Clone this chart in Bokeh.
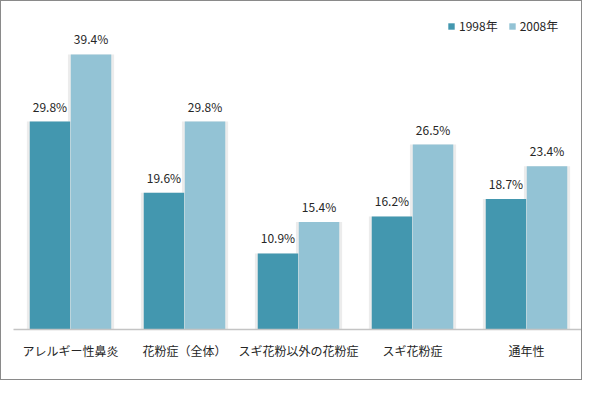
from bokeh.plotting import figure
from bokeh.models import ColumnDataSource, FactorRange, Legend, LegendItem
from bokeh.transform import dodge
from bokeh.core.properties import value
from bokeh.embed import file_html
from bokeh.resources import INLINE

categories = ["アレルギー性鼻炎", "花粉症（全体）", "スギ花粉以外の花粉症", "スギ花粉症", "通年性"]
v1998 = [29.8, 19.6, 10.9, 16.2, 18.7]
v2008 = [39.4, 29.8, 15.4, 26.5, 23.4]
series_names = ["1998年", "2008年"]

FONT = "Noto Sans CJK JP"
C1 = "#4397AF"
C2 = "#93C3D5"

src = ColumnDataSource(dict(
    cat=categories,
    a=v1998,
    b=v2008,
    la=[f"{v:.1f}%" for v in v1998],
    lb=[f"{v:.1f}%" for v in v2008],
))

p = figure(width=582, height=380, x_range=FactorRange(*categories, range_padding=0),
           y_range=(0, 44.7), output_backend="svg", toolbar_location=None,
           min_border_left=12, min_border_right=0, min_border_top=16, min_border_bottom=52)
p.styles = {"border": "1px solid #8a8a8a"}
p.outline_line_color = None
p.grid.grid_line_color = None
p.yaxis.visible = False
p.background_fill_color = "white"
p.border_fill_color = "white"

off = 0.18
bw = 0.355
sh = 0.05
p.vbar(x=dodge("cat", -off, range=p.x_range), top="a", width=bw + sh, source=src,
       fill_color="#ececec", line_color=None)
p.vbar(x=dodge("cat", off, range=p.x_range), top="b", width=bw + sh, source=src,
       fill_color="#ececec", line_color=None)
r1 = p.vbar(x=dodge("cat", -off, range=p.x_range), top="a", width=bw, source=src,
            fill_color=C1, line_color=None)
r2 = p.vbar(x=dodge("cat", off, range=p.x_range), top="b", width=bw, source=src,
            fill_color=C2, line_color=None)

p.text(x=dodge("cat", -off, range=p.x_range), y="a", text="la", source=src,
       text_align="center", text_baseline="bottom", y_offset=-7,
       text_font=value(FONT), text_font_size="12px", text_color="#262626")
p.text(x=dodge("cat", off, range=p.x_range), y="b", text="lb", source=src,
       text_align="center", text_baseline="bottom", y_offset=-7,
       text_font=value(FONT), text_font_size="12px", text_color="#262626")

ax = p.xaxis[0]
ax.axis_line_color = "#c4c4c4"
ax.axis_line_width = 1.5
ax.major_tick_line_color = None
ax.minor_tick_line_color = None
ax.major_label_text_font = FONT
ax.major_label_text_font_size = "12px"
ax.major_label_text_color = "#262626"
ax.major_label_standoff = 6

legend = Legend(items=[LegendItem(label=series_names[0], renderers=[r1]),
                       LegendItem(label=series_names[1], renderers=[r2])],
                orientation="horizontal", location=(434, 295),
                glyph_width=8, glyph_height=8, label_standoff=4, spacing=10,
                padding=0, margin=0, border_line_color=None,
                background_fill_alpha=0,
                label_text_font=FONT, label_text_font_size="12px",
                label_text_color="#262626")
p.add_layout(legend, "center")

open("out.html", "w").write(file_html(p, INLINE))
